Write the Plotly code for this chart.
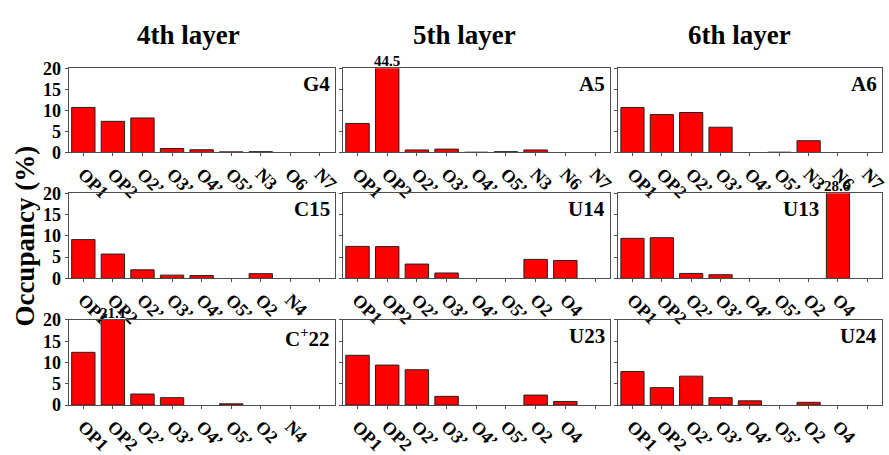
import plotly.graph_objects as go

W, H = 889, 455

# ---------------- data ----------------
cats_r1_c1 = ["OP1", "OP2", "O2’", "O3’", "O4’", "O5’", "N3", "O6", "N7"]
cats_r1_c23 = ["OP1", "OP2", "O2’", "O3’", "O4’", "O5’", "N3", "N6", "N7"]
cats_r23_c1 = ["OP1", "OP2", "O2’", "O3’", "O4’", "O5’", "O2", "N4"]
cats_r23_c23 = ["OP1", "OP2", "O2’", "O3’", "O4’", "O5’", "O2", "O4"]

G4 = [10.7, 7.4, 8.2, 0.95, 0.65, 0.15, 0.2, 0, 0]
A5 = [6.9, 44.5, 0.6, 0.8, 0.07, 0.2, 0.6, 0, 0]
A6 = [10.7, 9.0, 9.5, 6.0, 0, 0.07, 2.8, 0, 0]
C15 = [9.1, 5.7, 2.0, 0.75, 0.65, 0, 1.1, 0]
U14 = [7.5, 7.45, 3.35, 1.25, 0, 0, 4.45, 4.2]
U13 = [9.4, 9.55, 1.15, 0.85, 0, 0, 0, 28.6]
C22 = [12.4, 21.1, 2.6, 1.75, 0, 0.3, 0, 0]
U23 = [11.7, 9.4, 8.3, 2.05, 0, 0, 2.35, 0.85]
U24 = [7.9, 4.1, 6.8, 1.75, 1.0, 0, 0.65, 0]

panel_names = ["G4", "A5", "A6", "C15", "U14", "U13", "C<sup>+</sup>22", "U23", "U24"]
panel_values = [G4, A5, A6, C15, U14, U13, C22, U23, U24]
panel_cats = [cats_r1_c1, cats_r1_c23, cats_r1_c23,
              cats_r23_c1, cats_r23_c23, cats_r23_c23,
              cats_r23_c1, cats_r23_c23, cats_r23_c23]
col_titles = ["4th layer", "5th layer", "6th layer"]
y_ticks = [0, 5, 10, 15, 20]
y_max = 20
n_slots = 9

# ---------------- layout geometry (pixels) ----------------
col_px = [(69, 337), (345, 614), (622, 888)]
row_px = [(63, 154), (198, 290), (335, 427)]
col_title_x = [190, 468, 745]
label_x_domain = [1, 1, 1, 1, 1, 0.78, 1, 1, 1]

FONT = "Liberation Serif"
fig = go.Figure()
axis_style = dict(showline=True, mirror=True, linecolor="#4d4d4d", linewidth=1,
                  ticks="outside", ticklen=3, tickcolor="#4d4d4d",
                  showgrid=False, zeroline=False)

annotations = []
for i in range(9):
    r, c = divmod(i, 3)
    n = i + 1
    xa = "x" if n == 1 else f"x{n}"
    ya = "y" if n == 1 else f"y{n}"
    vals = panel_values[i]
    cats = panel_cats[i]
    fig.add_trace(go.Bar(
        x=list(range(len(vals))), y=vals, xaxis=xa, yaxis=ya,
        marker=dict(color="#ff0000",
                    line=dict(color="#222222", width=[1 if v > 0 else 0 for v in vals])),
        width=0.79, showlegend=False, hoverinfo="skip"))
    x0, x1 = col_px[c]
    y0, y1 = row_px[r]
    fig.layout[f"xaxis{n if n > 1 else ''}"] = dict(
        domain=[x0 / W, x1 / W], anchor=ya, range=[-0.5, n_slots - 0.5],
        tickmode="array", tickvals=list(range(len(cats))), ticktext=cats,
        minor=dict(ticks="outside", ticklen=3, tickcolor="#4d4d4d",
                   tickmode="linear", tick0=0, dtick=1, showgrid=False),
        tickangle=45, tickfont=dict(family=FONT, size=18, color="black", weight="bold"),
        **axis_style)
    fig.layout[f"yaxis{n if n > 1 else ''}"] = dict(
        domain=[1 - y1 / H, 1 - y0 / H], anchor=xa, range=[0, y_max],
        tickmode="array", tickvals=y_ticks,
        showticklabels=(c == 0),
        tickfont=dict(family=FONT, size=18, color="black", weight="bold"),
        **axis_style)
    annotations.append(dict(
        text=f"<b>{panel_names[i]}</b>", xref=f"{xa} domain", yref=f"{ya} domain",
        x=label_x_domain[i], y=1, xanchor="right", yanchor="top", xshift=-3, yshift=-2,
        showarrow=False, font=dict(family=FONT, size=21, color="black")))
    for j, v in enumerate(vals):
        if v > y_max:
            annotations.append(dict(
                text=f"<b>{v:.1f}</b>", xref=xa, yref=ya, x=j, y=y_max,
                xanchor="center", yanchor="bottom", yshift=-3, showarrow=False,
                font=dict(family=FONT, size=15, color="black")))

for c in range(3):
    annotations.append(dict(
        text=f"<b>{col_titles[c]}</b>", xref="paper", yref="paper",
        x=col_title_x[c] / W, y=1 - 27 / H, xanchor="center", yanchor="middle",
        showarrow=False, font=dict(family=FONT, size=27, color="black")))

annotations.append(dict(
    text="<b>Occupancy (%)</b>", xref="paper", yref="paper",
    x=25 / W, y=1 - 244 / H, xanchor="center", yanchor="middle", textangle=-90,
    showarrow=False, font=dict(family=FONT, size=27, color="black")))

fig.update_layout(
    width=W, height=H, autosize=False,
    margin=dict(l=0, r=0, t=0, b=0),
    paper_bgcolor="white", plot_bgcolor="white",
    bargap=0.2, annotations=annotations)

fig.write_html("out.html")
